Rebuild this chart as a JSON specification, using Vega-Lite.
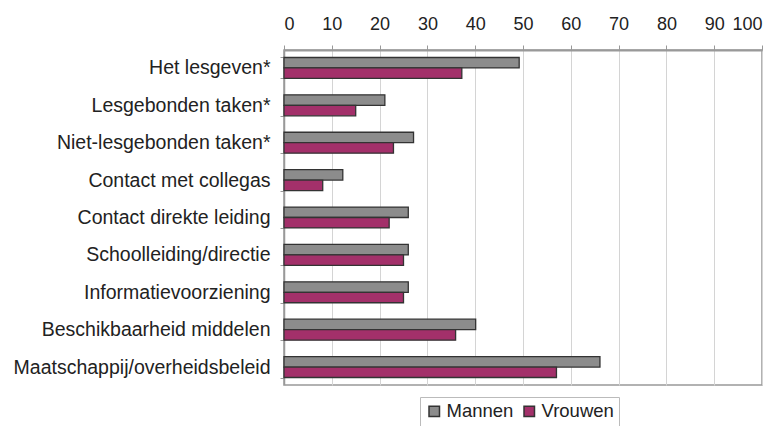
{
  "$schema": "https://vega.github.io/schema/vega-lite/v6.json",
  "autosize": {"type": "none"},
  "width": 478,
  "height": 335,
  "padding": {"left": 284, "top": 50, "right": 17, "bottom": 41},
  "background": "white",
  "config": {
    "font": "Liberation Sans",
    "view": {"stroke": "#999999", "strokeWidth": 1.5}
  },
  "data": {
    "values": [
      {"cat": "Het lesgeven*", "sex": "Mannen", "v": 49.2},
      {"cat": "Het lesgeven*", "sex": "Vrouwen", "v": 37.2},
      {"cat": "Lesgebonden taken*", "sex": "Mannen", "v": 21.1},
      {"cat": "Lesgebonden taken*", "sex": "Vrouwen", "v": 15.0},
      {"cat": "Niet-lesgebonden taken*", "sex": "Mannen", "v": 27.1},
      {"cat": "Niet-lesgebonden taken*", "sex": "Vrouwen", "v": 22.9},
      {"cat": "Contact met collegas", "sex": "Mannen", "v": 12.3},
      {"cat": "Contact met collegas", "sex": "Vrouwen", "v": 8.1},
      {"cat": "Contact direkte leiding", "sex": "Mannen", "v": 26.0},
      {"cat": "Contact direkte leiding", "sex": "Vrouwen", "v": 22.0},
      {"cat": "Schoolleiding/directie", "sex": "Mannen", "v": 26.0},
      {"cat": "Schoolleiding/directie", "sex": "Vrouwen", "v": 25.0},
      {"cat": "Informatievoorziening", "sex": "Mannen", "v": 26.0},
      {"cat": "Informatievoorziening", "sex": "Vrouwen", "v": 25.0},
      {"cat": "Beschikbaarheid middelen", "sex": "Mannen", "v": 40.1},
      {"cat": "Beschikbaarheid middelen", "sex": "Vrouwen", "v": 35.9},
      {"cat": "Maatschappij/overheidsbeleid", "sex": "Mannen", "v": 66.1},
      {"cat": "Maatschappij/overheidsbeleid", "sex": "Vrouwen", "v": 57.0}
    ]
  },
  "mark": {"type": "bar", "stroke": "#333333", "strokeWidth": 1.3},
  "encoding": {
    "y": {
      "field": "cat",
      "type": "nominal",
      "sort": null,
      "scale": {"paddingInner": 0.44, "paddingOuter": 0.2},
      "axis": {
        "title": null,
        "tickBand": "extent",
        "domainColor": "#999999",
        "domainWidth": 1.5,
        "tickColor": "#999999",
        "tickSize": 4,
        "labelFont": "Liberation Sans",
        "labelFontSize": 19.5,
        "labelColor": "#222222",
        "labelPadding": 10,
        "labelLimit": 300
      }
    },
    "yOffset": {"field": "sex", "type": "nominal", "sort": ["Mannen", "Vrouwen"]},
    "x": {
      "field": "v",
      "type": "quantitative",
      "scale": {"domain": [0, 100], "nice": false},
      "axis": {
        "orient": "top",
        "title": null,
        "values": [0, 10, 20, 30, 40, 50, 60, 70, 80, 90, 100],
        "grid": true,
        "gridColor": "#d4d4d4",
        "gridWidth": 1,
        "domainColor": "#999999",
        "domainWidth": 2,
        "tickColor": "#999999",
        "tickSize": 5,
        "labelFont": "Liberation Sans",
        "labelFontSize": 18,
        "labelColor": "#222222",
        "labelPadding": 12
      }
    },
    "color": {
      "field": "sex",
      "type": "nominal",
      "sort": ["Mannen", "Vrouwen"],
      "scale": {"domain": ["Mannen", "Vrouwen"], "range": ["#8c8c8c", "#a3306a"]},
      "legend": {
        "title": null,
        "orient": "none",
        "direction": "horizontal",
        "legendX": 136,
        "legendY": 347,
        "symbolType": "square",
        "symbolSize": 110,
        "symbolStrokeColor": "#333333",
        "symbolStrokeWidth": 1.5,
        "labelFont": "Liberation Sans",
        "labelFontSize": 18.5,
        "labelColor": "#222222",
        "columnPadding": 6,
        "labelOffset": 3,
        "padding": 5,
        "strokeColor": "#bbbbbb",
        "fillColor": "white"
      }
    }
  }
}
